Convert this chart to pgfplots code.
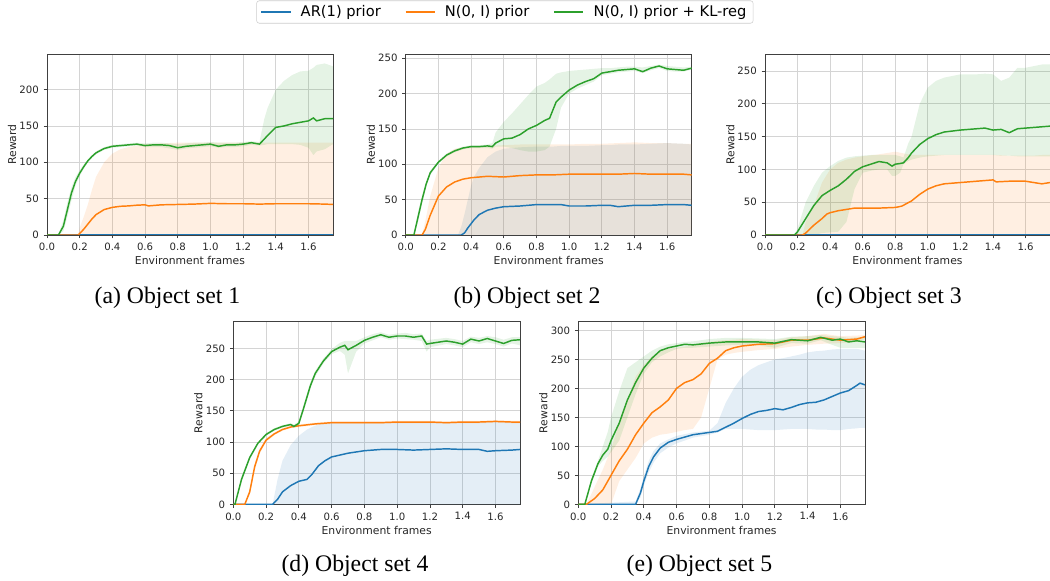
\documentclass[border=0pt]{standalone}
\usepackage{pgfplots}
\pgfplotsset{compat=1.18}
\usepackage{pgfplotstable}
\usepgfplotslibrary{fillbetween}
\usepackage{fontspec}
\setmainfont{Liberation Serif}
\newfontfamily\dv{DejaVu Sans}

\definecolor{tblue}{HTML}{1F77B4}
\definecolor{torange}{HTML}{FF7F0E}
\definecolor{tgreen}{HTML}{2CA02C}

% ---- data: x (1e9 frames), mean, lower, upper ----
\pgfplotstableread{
x m lo hi
0 0 0 0
1.75 0 0 0
}\dZero

% (a) Object set 1
\pgfplotstableread{
x m lo hi
0 0 0 0
0.19 0 0 0
0.2 2 0 10
0.225 8 0 25
0.25 15 0 42
0.275 22 0 62
0.3 28 0 80
0.35 35 0 100
0.4 38 0 112
0.45 39.5 0 118
0.5 40 0 121
0.55 41 0 123
0.6 41.5 0 125
0.62 40 0 125
0.7 41.5 0 126
0.8 42 0 127
0.9 42.5 0 127
1.0 43.5 0 127
1.1 43 0 127
1.2 43 0 127
1.3 42.5 0 127
1.4 43 0 127
1.5 43 0 127
1.6 43 0 127
1.7 42.5 0 127
1.75 42 0 127
}\dAo
\pgfplotstableread{
x m lo hi
0 0 0 0
0.07 0 0 1
0.1 12 5 20
0.125 35 25 45
0.15 58 48 66
0.175 74 68 80
0.2 85 81 89
0.225 94 91 97
0.25 102 100 104
0.275 108 106 110
0.3 113 111 115
0.35 119 117 121
0.4 122 120 124
0.45 123 121 125
0.5 124 122 126
0.55 125 123 127
0.6 123 121 126
0.65 124 121 127
0.7 124 121 127
0.75 123 119 126
0.8 120 117 125
0.85 122 119 126
0.9 123 120 127
0.95 124 121 127
1.0 125 122 128
1.05 122 120 127
1.1 124 121 127
1.15 124 121 127
1.2 125 122 128
1.25 127 124 129
1.3 125 123 128
1.33 132 124 160
1.35 137 125 175
1.4 148 125 200
1.45 150 125 212
1.5 153 125 220
1.55 155 124 225
1.6 157 120 226
1.63 161 110 230
1.65 157 115 234
1.7 160 118 236
1.75 160 125 232
}\dAg

% (b) Object set 2
\pgfplotstableread{
x m lo hi
0 0 0 0
0.32 0 0 0
0.34 0 0 12
0.36 3 0 30
0.38 10 0 50
0.4 16 0 70
0.42 22 0 83
0.45 29 0 95
0.5 35 0 110
0.55 38 0 118
0.6 40 0 122
0.7 41 0 124
0.8 43 0 125
0.9 43 0 125
0.95 43 0 126
1.0 41 0 126
1.1 41 0 126
1.2 42 0 127
1.25 42 0 127
1.3 40 0 128
1.35 41 0 128
1.4 42 0 128
1.5 42 0 129
1.6 43 0 130
1.7 43 0 129
1.75 42 0 128
}\dBb
\pgfplotstableread{
x m lo hi
0 0 0 0
0.1 0 0 0
0.12 8 0 20
0.15 28 0 55
0.2 55 0 95
0.25 68 0 115
0.3 75 0 122
0.35 79 0 124
0.4 81 0 125
0.5 83 0 126
0.6 82 0 127
0.7 84 0 128
0.8 85 0 128
0.9 85 0 128
1.0 86 0 128
1.1 86 0 129
1.2 86 0 129
1.3 86 0 130
1.4 87 0 131
1.5 86 0 130
1.6 86 0 130
1.7 86 0 129
1.75 85 0 129
}\dBo
\pgfplotstableread{
x m lo hi
0 0 0 0
0.05 0 0 0
0.075 25 18 32
0.1 50 44 56
0.125 72 68 76
0.15 88 85 91
0.2 103 101 105
0.25 113 111 115
0.3 119 117 121
0.35 123 121 125
0.4 125 123 127
0.45 125 123 127
0.5 126 123 128
0.53 125 122 130
0.55 130 125 145
0.6 136 125 160
0.65 137 123 172
0.7 142 120 185
0.75 150 118 198
0.8 155 118 210
0.85 162 120 215
0.88 165 125 220
0.92 188 150 228
0.95 195 180 230
1.0 205 200 232
1.05 212 207 233
1.1 217 212 234
1.15 221 217 235
1.2 229 226 236
1.25 231 228 236
1.3 233 230 237
1.35 234 231 238
1.4 235 232 238
1.45 231 229 237
1.5 236 233 239
1.55 239 236 241
1.6 235 232 239
1.65 234 231 238
1.7 233 231 237
1.75 236 234 238
}\dBg

% (c) Object set 3
\pgfplotstableread{
x m lo hi
0 0 0 0
0.23 0 0 0
0.25 3 0 20
0.3 15 0 45
0.35 25 0 80
0.38 32 0 92
0.4 34 0 100
0.45 37 0 110
0.5 39 0 115
0.55 41 0 118
0.6 41 0 120
0.7 41 0 123
0.8 42 0 127
0.84 44 0 125
0.9 52 0 122
0.95 62 0 122
1.0 70 0 122
1.05 75 0 122
1.1 78 0 122
1.2 80 0 122
1.3 82 0 122
1.4 84 0 122
1.42 81 0 122
1.5 82 0 121
1.6 82 0 121
1.65 80 0 121
1.7 78 0 122
1.75 80 0 122
}\dCo
\pgfplotstableread{
x m lo hi
0 0 0 0
0.18 0 0 0
0.2 5 0 10
0.25 25 0 50
0.3 45 0 75
0.35 60 3 95
0.4 68 4 105
0.45 75 5 113
0.5 85 20 118
0.55 97 70 120
0.6 104 95 121
0.65 108 98 122
0.7 112 100 122
0.75 110 100 122
0.78 105 90 122
0.8 108 90 122
0.83 109 95 120
0.85 110 108 118
0.88 118 113 140
0.9 125 115 150
0.95 138 118 200
1.0 147 120 225
1.05 153 121 235
1.1 157 122 240
1.2 160 122 245
1.3 162 122 245
1.35 163 122 246
1.4 160 122 245
1.45 161 121 235
1.5 156 121 240
1.55 162 120 255
1.6 163 120 255
1.7 165 120 260
1.75 166 120 260
}\dCg

% (d) Object set 4
\pgfplotstableread{
x m lo hi
0 0 0 0
0.24 0 0 0
0.27 8 0 40
0.3 20 0 70
0.35 30 0 95
0.4 37 0 110
0.45 40 0 120
0.48 48 0 124
0.52 62 0 128
0.56 70 0 130
0.6 76 0 131
0.7 82 0 131
0.8 86 0 131
0.9 88 0 132
1.0 88 0 132
1.1 87 0 132
1.2 88 0 132
1.3 89 0 132
1.4 88 0 132
1.5 88 0 132
1.55 85 0 132
1.6 86 0 133
1.7 87 0 132
1.75 88 0 132
}\dDb
\pgfplotstableread{
x m lo hi
0 0 0 0
0.07 0 0 0
0.1 20 15 25
0.13 60 55 65
0.16 85 81 89
0.2 103 100 106
0.25 113 111 115
0.3 120 118 122
0.35 124 122 126
0.4 126 124 128
0.5 129 127 131
0.6 131 129 133
0.7 131 129 133
0.8 131 129 133
0.9 131 129 133
1.0 132 130 134
1.1 132 130 134
1.2 132 130 134
1.3 131 129 133
1.4 132 130 134
1.5 132 130 134
1.6 133 131 135
1.7 132 130 134
1.75 132 130 134
}\dDo
\pgfplotstableread{
x m lo hi
0 0 0 0
0.01 0 0 0
0.05 40 36 44
0.1 75 72 78
0.15 98 96 100
0.2 112 110 114
0.25 120 118 122
0.3 125 123 127
0.35 128 126 130
0.37 125 123 128
0.4 130 127 133
0.43 155 150 160
0.47 190 185 195
0.5 210 205 214
0.55 230 226 234
0.6 245 241 249
0.65 252 246 259
0.68 255 240 262
0.7 248 210 262
0.75 255 245 262
0.8 263 258 268
0.85 268 263 273
0.9 272 268 276
0.95 268 264 272
1.0 270 266 274
1.05 270 265 275
1.1 268 264 273
1.15 270 262 274
1.18 257 245 262
1.2 258 252 264
1.3 262 257 267
1.35 260 255 265
1.4 257 252 262
1.45 265 260 269
1.5 262 257 267
1.55 266 260 270
1.6 262 257 268
1.65 258 253 264
1.7 263 258 268
1.75 264 255 268
}\dDg

% (e) Object set 5
\pgfplotstableread{
x m lo hi
0 0 0 0
0.35 0 0 5
0.38 20 12 28
0.4 40 32 48
0.43 65 55 75
0.46 82 72 92
0.5 97 88 105
0.55 107 98 112
0.6 112 105 118
0.65 116 110 121
0.7 120 115 124
0.8 124 120 127
0.85 126 124 140
0.9 133 130 175
0.95 140 130 200
1.0 148 130 220
1.05 155 129 232
1.1 160 128 240
1.15 162 128 245
1.2 165 128 250
1.25 163 129 252
1.3 167 130 255
1.35 172 130 258
1.4 175 130 262
1.45 176 129 264
1.5 180 129 265
1.55 186 128 267
1.6 192 128 268
1.65 196 130 268
1.7 205 131 268
1.72 209 132 267
1.75 206 132 265
}\dEb
\pgfplotstableread{
x m lo hi
0 0 0 0
0.05 0 0 0
0.1 10 0 30
0.15 25 0 60
0.2 50 0 95
0.25 75 40 140
0.3 95 60 180
0.35 120 80 220
0.4 140 105 240
0.45 158 115 255
0.5 168 120 265
0.55 180 122 268
0.6 200 125 270
0.65 210 128 272
0.7 215 130 275
0.75 225 150 278
0.8 243 200 280
0.85 252 250 282
0.9 265 258 283
0.95 270 261 284
1.0 273 263 285
1.1 276 266 284
1.2 277 268 283
1.3 283 272 288
1.4 283 275 290
1.5 287 277 294
1.6 283 278 290
1.7 285 280 291
1.75 289 285 292
}\dEo
\pgfplotstableread{
x m lo hi
0 0 0 0
0.04 0 0 0
0.08 40 35 45
0.12 70 65 75
0.15 85 75 100
0.18 95 82 125
0.2 110 90 150
0.25 140 110 195
0.3 180 150 235
0.35 210 190 245
0.4 235 225 255
0.45 252 245 265
0.5 265 255 272
0.55 270 262 276
0.6 273 268 278
0.65 276 270 280
0.7 275 270 281
0.8 278 272 285
0.9 280 274 287
1.0 280 275 287
1.1 280 274 286
1.2 278 270 285
1.3 284 278 289
1.4 282 277 290
1.48 288 283 292
1.55 283 275 290
1.6 285 270 289
1.65 280 270 287
1.7 282 270 288
1.75 280 270 288
}\dEg

% shaded spread: table, colour, unique id
\newcommand{\band}[3]{%
  \addplot[draw=none, name path=hi#3, forget plot] table[x=x,y=hi]{#1};
  \addplot[draw=none, name path=lo#3, forget plot] table[x=x,y=lo]{#1};
  \addplot[fill=#2, fill opacity=0.12, draw=none, forget plot] fill between[of=hi#3 and lo#3];
}

\pgfplotsset{
  panel/.style={
    scale only axis,
    xmin=0, xmax=1.75, ymin=0,
    xtick={0,0.2,0.4,0.6,0.8,1.0,1.2,1.4,1.6},
    ytick distance=50,
    tick align=outside, tick pos=left, major tick length=2.6pt,
    grid=major, grid style={black!17, line width=0.6pt},
    axis line style={black!75, line width=0.6pt},
    every tick/.style={black!75, line width=0.6pt},
    /pgf/number format/assume math mode=true,
    ticklabel style={font=\dv\fontsize{7.6}{9}\selectfont, text=black!85},
    xticklabel style={/pgf/number format/fixed, /pgf/number format/fixed zerofill, /pgf/number format/precision=1},
    label style={font=\dv\fontsize{8.1}{10}\selectfont, text=black!85},
    xlabel={Environment frames}, ylabel={Reward},
    xlabel style={at={(axis description cs:0.5,-0.143)}, anchor=center},
    ylabel style={at={(axis description cs:-0.122,0.5)}, anchor=center},
  },
  mline/.style={line width=1.1pt},
}

\newcommand{\oneE}{\node[anchor=east, font=\dv\fontsize{8.1}{10}\selectfont, text=black!85] at (axis description cs:1,-0.143) {1e9};}

\begin{document}
\begin{tikzpicture}

% (a)
\begin{axis}[panel, at={(35.25pt,259.5pt)}, anchor=south west,
  width=214.5pt, height=135.75pt, ymax=249,
  legend columns=3,
  legend style={at={(1.601,1.232)}, anchor=center,
    font=\dv\fontsize{11}{13}\selectfont, draw=black!20, rounded corners=2pt,
    inner xsep=3pt, inner ysep=1.5pt,
    /tikz/every odd column/.append style={column sep=5pt},
    /tikz/every even column/.append style={column sep=16pt}},
  legend image code/.code={\draw[#1, line width=1.1pt] (0pt,0pt) -- (22pt,0pt);},
]
\band{\dAo}{torange}{ao}
\band{\dAg}{tgreen}{ag}
\addplot[tblue, mline] table[x=x,y=m]{\dZero}; \addlegendentry{AR(1) prior}
\addplot[torange, mline] table[x=x,y=m]{\dAo}; \addlegendentry{N(0, I) prior}
\addplot[tgreen, mline] table[x=x,y=m]{\dAg}; \addlegendentry{N(0, I) prior + KL-reg}
\oneE
\end{axis}

% (b)
\begin{axis}[panel, at={(304.3pt,259.5pt)}, anchor=south west,
  width=214.5pt, height=135.75pt, ymax=256]
\band{\dBb}{tblue}{bb}
\band{\dBo}{torange}{bo}
\band{\dBg}{tgreen}{bg}
\addplot[tblue, mline] table[x=x,y=m]{\dBb};
\addplot[torange, mline] table[x=x,y=m]{\dBo};
\addplot[tgreen, mline] table[x=x,y=m]{\dBg};
\oneE
\end{axis}

% (c)
\begin{axis}[panel, at={(573.75pt,259.5pt)}, anchor=south west,
  width=213.75pt, height=135.75pt, ymax=276]
\band{\dCo}{torange}{co}
\band{\dCg}{tgreen}{cg}
\addplot[tblue, mline] table[x=x,y=m]{\dZero};
\addplot[torange, mline] table[x=x,y=m]{\dCo};
\addplot[tgreen, mline] table[x=x,y=m]{\dCg};
\oneE
\end{axis}

% (d)
\begin{axis}[panel, at={(175pt,57.5pt)}, anchor=south west,
  width=215pt, height=137pt, ymax=293]
\band{\dDb}{tblue}{db}
\band{\dDo}{torange}{do}
\band{\dDg}{tgreen}{dg}
\addplot[tblue, mline] table[x=x,y=m]{\dDb};
\addplot[torange, mline] table[x=x,y=m]{\dDo};
\addplot[tgreen, mline] table[x=x,y=m]{\dDg};
\oneE
\end{axis}

% (e)
\begin{axis}[panel, at={(433.7pt,57.5pt)}, anchor=south west,
  width=215pt, height=137pt, ymax=315]
\band{\dEb}{tblue}{eb}
\band{\dEo}{torange}{eo}
\band{\dEg}{tgreen}{eg}
\addplot[tblue, mline] table[x=x,y=m]{\dEb};
\addplot[torange, mline] table[x=x,y=m]{\dEo};
\addplot[tgreen, mline] table[x=x,y=m]{\dEg};
\oneE
\end{axis}

% sub-captions
\begin{scope}[every node/.style={font=\fontsize{17.8}{21}\selectfont}]
\node at (125.6pt,212.25pt) {(a) Object set 1};
\node at (395.25pt,212.25pt) {(b) Object set 2};
\node at (666.75pt,212.25pt) {(c) Object set 3};
\node at (266.25pt,11.25pt) {(d) Object set 4};
\node at (524.6pt,11.25pt) {(e) Object set 5};
\end{scope}

\pgfresetboundingbox
\useasboundingbox (0,0) rectangle (787.5pt,435.75pt);
\end{tikzpicture}
\end{document}
